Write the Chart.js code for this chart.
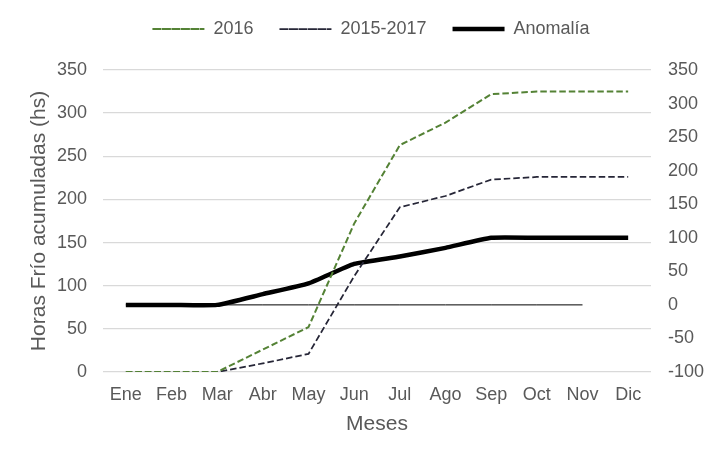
<!DOCTYPE html>
<html>
<head>
<meta charset="utf-8">
<script src="https://cdn.jsdelivr.net/npm/chart.js@4/dist/chart.umd.min.js"></script>
<style>
  html, body { margin: 0; padding: 0; background: #fff; }
  #wrap { width: 718px; height: 461px; }
</style>
</head>
<body>
<div id="wrap"><canvas id="chart"></canvas></div>
<script>
const meses = ['Ene', 'Feb', 'Mar', 'Abr', 'May', 'Jun', 'Jul', 'Ago', 'Sep', 'Oct', 'Nov', 'Dic'];
const horas2016 = [0, 0, 0, 26, 52, 172, 263, 289, 322, 325, 325, 325];
const horas2015a2017 = [0, 0, 0, 10, 21, 111, 191, 204, 223, 226, 226, 226];
const anomalia = [0, 0, 0, 16, 32, 61, 72, 85, 100, 100, 100, 100];
const lineaCero = [0, 0, 0, 0, 0, 0, 0, 0, 0, 0, 0, null];

const TEXT = '#595959';
const GRID = '#d9d9d9';
const FONT = 'Liberation Sans, Arial, sans-serif';

Chart.defaults.font.family = FONT;
Chart.defaults.color = TEXT;

// leave room between legend and plot, like the original
const legendGap = {
  id: 'legendGap',
  beforeInit(chart) {
    const fit = chart.legend.fit;
    chart.legend.fit = function () {
      fit.call(this);
      this.height += 22;
    };
  },
};

new Chart(document.getElementById('chart'), {
  type: 'line',
  data: {
    labels: meses,
    datasets: [
      {
        label: '2016',
        data: horas2016,
        yAxisID: 'y',
        borderColor: '#548235',
        backgroundColor: 'transparent',
        borderWidth: 2,
        borderDash: [6.5, 3],
        pointRadius: 0,
        tension: 0,
      },
      {
        label: '2015-2017',
        data: horas2015a2017,
        yAxisID: 'y',
        borderColor: '#262637',
        backgroundColor: 'transparent',
        borderWidth: 1.75,
        borderDash: [6.5, 3],
        pointRadius: 0,
        tension: 0,
      },
      {
        label: 'Anomalía',
        data: anomalia,
        yAxisID: 'y1',
        borderColor: '#000',
        backgroundColor: 'transparent',
        borderWidth: 4.5,
        pointRadius: 0,
        tension: 0.15,
      },
      {
        label: 'cero',
        data: lineaCero,
        yAxisID: 'y1',
        borderColor: '#000',
        borderWidth: 1,
        pointRadius: 0,
      },
    ],
  },
  options: {
    responsive: true,
    maintainAspectRatio: false,
    animation: false,
    layout: { padding: { left: 27, right: 3, top: -6, bottom: 24 } },
    plugins: {
      tooltip: { enabled: false },
      legend: {
        position: 'top',
        labels: {
          color: TEXT,
          font: { size: 18 },
          boxWidth: 52,
          boxHeight: 0,
          padding: 26,
          filter: item => item.text !== 'cero',
        },
      },
    },
    scales: {
      x: {
        offset: true,
        grid: { display: false, drawTicks: false },
        border: { display: false },
        ticks: { color: TEXT, font: { size: 18 }, padding: 12, maxRotation: 0, autoSkip: false },
        title: { display: true, text: 'Meses', color: TEXT, font: { size: 21 }, padding: 0 },
        afterFit: s => { s.height = 65; },
      },
      y: {
        position: 'left',
        min: 0,
        max: 350,
        ticks: { stepSize: 50, color: TEXT, font: { size: 18 }, padding: 16 },
        grid: { color: GRID, lineWidth: 1.3, drawTicks: false },
        border: { display: false },
        title: { display: true, text: 'Horas Frío acumuladas (hs)', color: TEXT, font: { size: 21 }, padding: 0 },
        afterFit: s => { s.width = 76; },
      },
      y1: {
        position: 'right',
        min: -100,
        max: 350,
        ticks: { stepSize: 50, color: TEXT, font: { size: 18 }, padding: 17 },
        grid: { display: false, drawTicks: false },
        border: { display: false },
        afterFit: s => { s.width = 64; },
      },
    },
  },
  plugins: [legendGap],
});
</script>
</body>
</html>
